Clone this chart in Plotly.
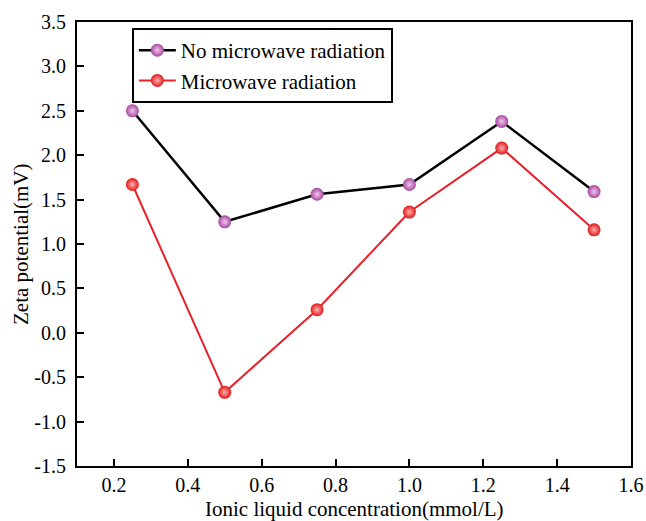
import plotly.graph_objects as go

concentration = [0.25, 0.5, 0.75, 1.0, 1.25, 1.5]
no_microwave = [2.50, 1.25, 1.56, 1.67, 2.38, 1.59]
microwave = [1.67, -0.67, 0.26, 1.36, 2.08, 1.16]

x_ticks = [0.2, 0.4, 0.6, 0.8, 1.0, 1.2, 1.4, 1.6]
y_ticks = [-1.5, -1.0, -0.5, 0.0, 0.5, 1.0, 1.5, 2.0, 2.5, 3.0, 3.5]

x_title = "Ionic liquid concentration(mmol/L)"
y_title = "Zeta potential(mV)"

FONT = "Liberation Serif"

W, H = 646, 521
ML, MR, MT, MB = 77, 15, 22, 55

fig = go.Figure()
fig.add_trace(go.Scatter(
    x=concentration, y=no_microwave, mode="lines+markers",
    name="No microwave radiation",
    line=dict(color="black", width=2.5),
    marker=dict(size=13, color="#a8469f",
                gradient=dict(type="radial", color="#f0c8ec"),
                line=dict(width=0)),
))
fig.add_trace(go.Scatter(
    x=concentration, y=microwave, mode="lines+markers",
    name="Microwave radiation",
    line=dict(color="#e8202a", width=2),
    marker=dict(size=13, color="#e01818",
                gradient=dict(type="radial", color="#ffb0b0"),
                line=dict(width=0)),
))

axis_common = dict(
    showline=True, linecolor="black", linewidth=2, mirror=True,
    ticks="inside", ticklen=7, tickwidth=2, tickcolor="black",
    showgrid=False, zeroline=False, automargin=False,
    ticklabeloverflow="allow",
    tickfont=dict(family=FONT, size=20, color="black"),
)

plot_h = H - MT - MB

fig.update_layout(
    width=W, height=H,
    margin=dict(l=ML, r=MR, t=MT, b=MB),
    paper_bgcolor="white", plot_bgcolor="white",
    font=dict(family=FONT, color="black"),
    showlegend=True,
    legend=dict(
        x=0.099, y=1 - 6 / plot_h, xanchor="left", yanchor="top",
        bordercolor="black", borderwidth=2, bgcolor="white",
        font=dict(family=FONT, size=21, color="black"),
        tracegroupgap=0, itemwidth=37,
    ),
    xaxis=dict(
        range=[0.1, 1.6], tickvals=x_ticks,
        ticktext=[f"{v:.1f}" for v in x_ticks],
        ticklabelstandoff=0,
        **axis_common,
    ),
    yaxis=dict(
        range=[-1.5, 3.5], tickvals=y_ticks,
        ticktext=[f"{v:.1f}" for v in y_ticks],
        ticklabelstandoff=5,
        **axis_common,
    ),
    annotations=[
        dict(text=x_title, xref="paper", yref="paper", x=0.5, y=0,
             xanchor="center", yanchor="middle", yshift=-43, showarrow=False,
             font=dict(family=FONT, size=21, color="black")),
        dict(text=y_title, xref="paper", yref="paper", x=0, y=0.5,
             xanchor="center", yanchor="middle", xshift=-56, textangle=-90,
             showarrow=False, font=dict(family=FONT, size=21, color="black")),
    ],
)

# remove the default page margin so the figure fills the window exactly
fig.write_html(
    "out.html",
    config={"displayModeBar": False},
    post_script="document.body.style.margin='0';"
                "document.documentElement.style.overflow='hidden';",
)
